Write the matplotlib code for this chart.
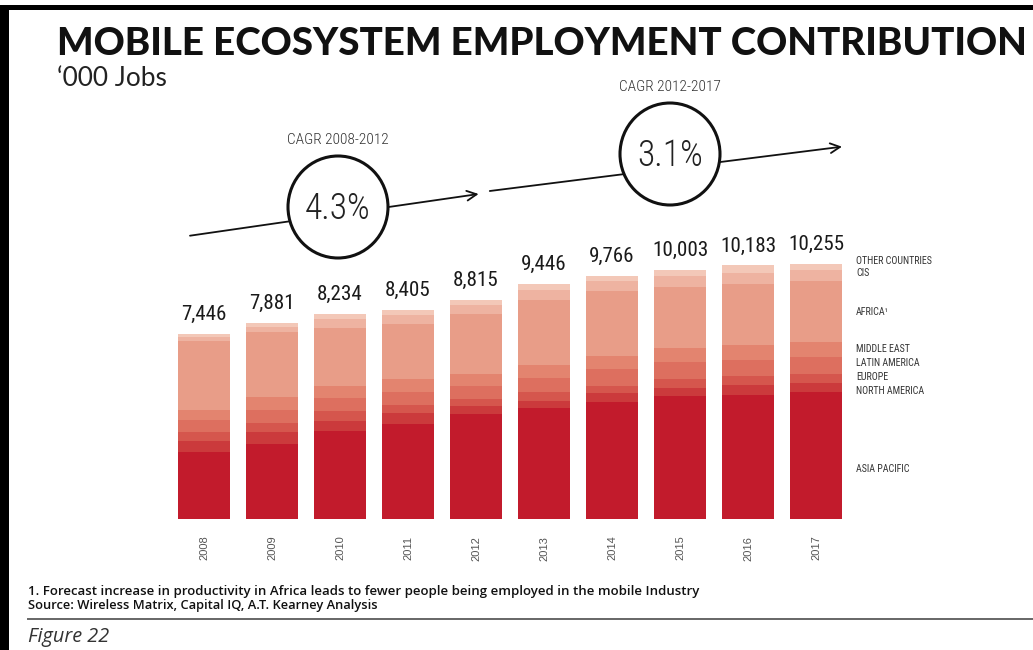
import matplotlib
matplotlib.use('Agg')
import matplotlib.pyplot as plt
from matplotlib import font_manager as fm
from matplotlib.font_manager import FontProperties
from matplotlib.patches import Ellipse, Rectangle
import numpy as np

# ---------------- data ----------------
years = ['2008', '2009', '2010', '2011', '2012', '2013', '2014', '2015', '2016', '2017']
totals = [7446, 7881, 8234, 8405, 8815, 9446, 9766, 10003, 10183, 10255]
regions = ['ASIA PACIFIC', 'NORTH AMERICA', 'EUROPE', 'LATIN AMERICA',
           'MIDDLE EAST', 'AFRICA\u00b9', 'CIS', 'OTHER COUNTRIES']
asia_pacific = [2700, 3031, 3518, 3816, 4199, 4458, 4711, 4930, 4993, 5106]
north_america = [438, 473, 435, 458, 327, 293, 344, 342, 371, 358]
europe = [340, 364, 395, 316, 303, 340, 290, 358, 359, 374]
latin_america = [503, 509, 514, 529, 512, 582, 661, 664, 667, 661]
middle_east = [385, 541, 462, 497, 496, 527, 554, 569, 599, 597]
africa = [2765, 2587, 2344, 2198, 2400, 2589, 2613, 2441, 2460, 2455]
cis = [180, 202, 356, 367, 354, 396, 369, 437, 427, 466]
other = [135, 174, 210, 224, 224, 261, 224, 262, 307, 238]
cagr_labels = ['CAGR 2008-2012', 'CAGR 2012-2017']
cagr_values = ['4.3%', '3.1%']

series = [asia_pacific, north_america, europe, latin_america,
          middle_east, africa, cis, other]
colors = ['#C21B2C', '#CB3A3C', '#D5564D', '#DD6F5F',
          '#E3846F', '#E89D88', '#EEB3A1', '#F3C8B8']

# ---------------- fonts ----------------
names = {f.name for f in fm.fontManager.ttflist}
TITLE_FONT = 'Lato' if 'Lato' in names else 'DejaVu Sans'
BODY_FONT = 'Open Sans' if 'Open Sans' in names else 'DejaVu Sans'
files = [f.fname for f in fm.fontManager.ttflist]


def find_font(prefs):
    for p in prefs:
        for fn in files:
            if p in fn.lower().replace('_', '').replace(' ', ''):
                return fn
    return None


light_path = find_font(['robotocondensed-light', 'robotocondensed-regular',
                        'liberationsansnarrow-regular', 'dejavusanscondensed.ttf'])
reg_path = find_font(['robotocondensed-regular', 'robotocondensed-light',
                      'liberationsansnarrow-regular', 'dejavusanscondensed.ttf'])


def nfp(size, regular=False):
    p = reg_path if regular else light_path
    if p:
        return FontProperties(fname=p, size=size)
    return FontProperties(family='DejaVu Sans', size=size)


W, H = 1033, 650
fig = plt.figure(figsize=(W / 100, H / 100), dpi=100)
fig.patch.set_facecolor('white')
rend = fig.canvas.get_renderer()


def fit_size(sample, width_px, regular=False, base=20.0):
    w, h, d = rend.get_text_width_height_descent(sample, nfp(base, regular), False)
    return base * width_px / w


val_size = min(fit_size('10,255', 56, True), 24)
pct_size = min(fit_size('4.3%', 66), 38)
cagr_size = min(fit_size('CAGR 2008-2012', 102), 14)
leg_size = min(fit_size('OTHER COUNTRIES', 76, True), 11)

# ---------------- bar axes ----------------
PX_PER_UNIT = 0.0249
YMAX = 14000
base_y = 519
ax_h = YMAX * PX_PER_UNIT
ax = fig.add_axes([170 / W, (H - base_y) / H, 680 / W, ax_h / H])
x = np.arange(len(years))
bottom = np.zeros(len(years))
for vals, col in zip(series, colors):
    ax.bar(x, vals, width=0.77, bottom=bottom, color=col, edgecolor='none', zorder=2)
    bottom += np.array(vals)

for xi, tot in zip(x, totals):
    ax.annotate(f'{tot:,}', (xi, tot), xytext=(0, 10), textcoords='offset points',
                ha='center', va='baseline', fontproperties=nfp(val_size, True),
                color='#1a1a1a')

ax.set_xlim(-0.5, len(years) - 0.5)
ax.set_ylim(0, YMAX)
ax.set_xticks(x)
ax.set_xticklabels(years, rotation=90, fontsize=8, color='#555555', family='Liberation Sans')
ax.tick_params(axis='x', length=0, pad=12)
ax.set_yticks([])
for s in ax.spines.values():
    s.set_visible(False)
ax.patch.set_alpha(0)

# ---------------- overlay in pixel coords ----------------
ov = fig.add_axes([0, 0, 1, 1], zorder=5)
ov.set_xlim(0, W)
ov.set_ylim(H, 0)
ov.axis('off')
ov.patch.set_alpha(0)

# borders
ov.add_patch(Rectangle((0, 5), 9, H - 5, color='black', lw=0))
ov.add_patch(Rectangle((0, 5), W, 5, color='black', lw=0))

# CAGR arrows
arrow_kw = dict(arrowstyle='->,head_length=0.7,head_width=0.35', color='#111111', lw=1.3,
                shrinkA=0, shrinkB=0)
ov.annotate('', xy=(478.6, 194), xytext=(190, 235.7), arrowprops=arrow_kw, zorder=1)
ov.annotate('', xy=(842, 146.7), xytext=(489.8, 191), arrowprops=arrow_kw, zorder=1)

circles = [(338, 207), (670, 154)]
for (cx, cy), lab, val in zip(circles, cagr_labels, cagr_values):
    ov.add_patch(Ellipse((cx, cy), 100, 102, facecolor='white', edgecolor='#111111',
                         lw=2.2, zorder=3))
    ov.text(cx, cy + 2, val, ha='center', va='center', fontproperties=nfp(pct_size),
            color='#222222', zorder=4)
    ov.text(cx, cy - 67, lab, ha='center', va='center', fontproperties=nfp(cagr_size),
            color='#333333', zorder=4)

# legend labels
legend_y = [469, 391, 377, 363, 349, 312, 273, 261]
for lab, ly in zip(regions, legend_y):
    ov.text(856, ly, lab, ha='left', va='center', fontproperties=nfp(leg_size, True),
            color='#333333')

# titles
title = ov.text(57, 44, 'MOBILE ECOSYSTEM EMPLOYMENT CONTRIBUTION', ha='left', va='center',
                fontsize=30, family=TITLE_FONT, fontweight='black', color='#111111')
jobs = ov.text(57, 78, '\u2018000 Jobs', ha='left', va='center', fontsize=14,
               family=TITLE_FONT, fontweight='normal', color='#222222')
fn1 = ov.text(28, 591, '1. Forecast increase in productivity in Africa leads to fewer people being '
              'employed in the mobile Industry', ha='left', va='center', fontsize=8,
              family=BODY_FONT, fontweight='semibold', color='#111111')
fn2 = ov.text(28, 605, 'Source: Wireless Matrix, Capital IQ, A.T. Kearney Analysis', ha='left',
              va='center', fontsize=8, family=BODY_FONT, fontweight='semibold', color='#111111')
ov.plot([28, W], [619, 619], color='#666666', lw=1.4)
fig_lab = ov.text(28, 637, 'Figure 22', ha='left', va='center', fontsize=11, family=BODY_FONT,
                  style='italic', color='#333333')

# fit widths
fig.canvas.draw()
r = fig.canvas.get_renderer()
for t, wpx in [(title, 968), (jobs, 111), (fn1, 669), (fn2, 350), (fig_lab, 81)]:
    bb = t.get_window_extent(r)
    t.set_fontsize(t.get_fontsize() * wpx / bb.width)

fig.savefig('out.png', dpi=100, facecolor='white')
